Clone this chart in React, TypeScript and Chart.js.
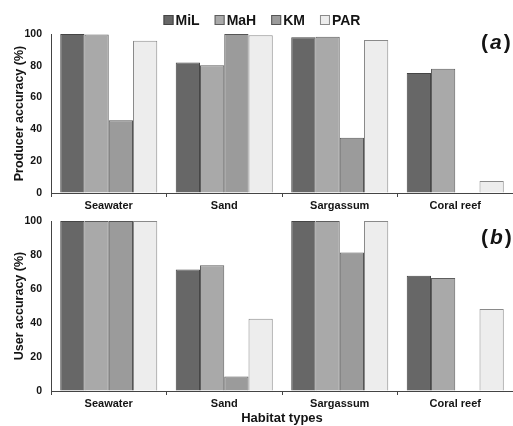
import React, { useEffect, useRef } from "react";
import { Chart, registerables } from "chart.js";

Chart.register(...registerables);

const categories = ["Seawater", "Sand", "Sargassum", "Coral reef"];
const seriesNames = ["MiL", "MaH", "KM", "PAR"];
const producerMiL = [100, 82, 98, 75.5];
const producerMaH = [99.7, 80.3, 98.3, 78.2];
const producerKM = [45.8, 100, 34.7, 0];
const producerPAR = [95.8, 99.2, 96.3, 7.5];
const userMiL = [100, 71.4, 100, 67.8];
const userMaH = [100, 74, 100, 66.5];
const userKM = [100, 8.6, 81.4, 0];
const userPAR = [100, 42.5, 100, 48.3];
const yTicks = [0, 20, 40, 60, 80, 100];

const fillColors = ["#676767", "#a9a9a9", "#9b9b9b", "#ededed"];
const borderColors = ["#454545", "#5e5e5e", "#555555", "#8a8a8a"];
const FONT = '"Liberation Sans", Arial, sans-serif';
const TEXT = "#141414";

const overlayPlugin = {
  id: "overlay",
  afterDraw(chart: any, _args: any, opts: any) {
    const ctx = chart.ctx as CanvasRenderingContext2D;
    ctx.save();
    if (opts.legend) {
      ctx.font = `bold 14px ${FONT}`;
      const box = 10, gapText = 2, gapItem = 15;
      const ds = chart.data.datasets;
      const widths = ds.map((d: any) => ctx.measureText(d.label).width);
      let total = gapItem * (ds.length - 1);
      widths.forEach((w: number) => (total += w + box + gapText));
      let x = opts.legendCenterX - total / 2;
      const y = opts.legendY;
      ds.forEach((d: any, i: number) => {
        ctx.fillStyle = d.backgroundColor;
        ctx.fillRect(x, y - box / 2, box, box);
        ctx.strokeStyle = d.borderColor;
        ctx.lineWidth = 1;
        ctx.strokeRect(x + 0.5, y - box / 2 + 0.5, box - 1, box - 1);
        ctx.fillStyle = TEXT;
        ctx.textBaseline = "middle";
        ctx.textAlign = "left";
        ctx.fillText(d.label, x + box + gapText, y + 1);
        x += box + gapText + widths[i] + gapItem;
      });
    }
    if (opts.panel) {
      const y = chart.chartArea.top + opts.panelDy;
      let x = opts.panelX;
      ctx.fillStyle = TEXT;
      ctx.textBaseline = "middle";
      ctx.textAlign = "left";
      ctx.font = `bold 21px ${FONT}`;
      ctx.fillText("(", x, y);
      x += ctx.measureText("(").width + 2;
      ctx.font = `italic bold 21px ${FONT}`;
      ctx.fillText(opts.panel, x, y);
      x += ctx.measureText(opts.panel).width + 2;
      ctx.font = `bold 21px ${FONT}`;
      ctx.fillText(")", x, y);
    }
    ctx.restore();
  },
};

function makeConfig(values: number[][], yTitle: string, panel: string, isTop: boolean): any {
  return {
    type: "bar",
    data: {
      labels: categories,
      datasets: seriesNames.map((name, i) => ({
        label: name,
        data: values[i],
        backgroundColor: fillColors[i],
        borderColor: borderColors[i],
        borderWidth: 1,
        categoryPercentage: 0.84,
        barPercentage: 1.0,
      })),
    },
    options: {
      responsive: false,
      animation: false,
      events: [],
      layout: { padding: { top: isTop ? 34 : 9, right: 0, left: 0, bottom: 0 } },
      plugins: {
        legend: { display: false },
        tooltip: { enabled: false },
        title: { display: false },
        overlay: {
          legend: isTop,
          legendCenterX: 262,
          legendY: 20,
          panel,
          panelX: 481,
          panelDy: isTop ? 9 : 17,
        },
      },
      scales: {
        x: {
          type: "category",
          grid: {
            display: true,
            drawOnChartArea: false,
            drawTicks: true,
            tickLength: 4,
            color: "#444",
            offset: true,
          },
          border: { display: true, color: "#444", width: 1 },
          ticks: {
            color: TEXT,
            font: { family: FONT, size: 11, weight: "bold" },
            padding: 2,
            maxRotation: 0,
            autoSkip: false,
          },
          title: isTop
            ? { display: false }
            : {
                display: true,
                text: "Habitat types",
                color: TEXT,
                font: { family: FONT, size: 13, weight: "bold" },
                padding: { top: 0, bottom: 0 },
              },
          afterFit: (s: any) => {
            s.height = isTop ? 19 : 35;
            s.paddingLeft = 0;
            s.paddingRight = 0;
          },
        },
        y: {
          min: 0,
          max: 100,
          afterBuildTicks: (s: any) => {
            s.ticks = yTicks.map((v) => ({ value: v }));
          },
          ticks: {
            color: TEXT,
            font: { family: FONT, size: 10.5, weight: "bold" },
            padding: 9,
          },
          grid: { display: true, drawOnChartArea: false, drawTicks: false },
          border: { display: true, color: "#444", width: 1 },
          title: {
            display: true,
            text: yTitle,
            color: TEXT,
            font: { family: FONT, size: 12.5, weight: "bold" },
            padding: { top: 12, bottom: 0 },
          },
          afterFit: (s: any) => {
            s.width = 51;
            s.paddingTop = 6;
            s.paddingBottom = 6;
          },
        },
      },
    },
    plugins: [overlayPlugin],
  };
}

export default function App() {
  const refA = useRef<HTMLCanvasElement>(null);
  const refB = useRef<HTMLCanvasElement>(null);
  useEffect(() => {
    const a = new Chart(
      refA.current!,
      makeConfig([producerMiL, producerMaH, producerKM, producerPAR], "Producer accuracy (%)", "a", true)
    );
    const b = new Chart(
      refB.current!,
      makeConfig([userMiL, userMaH, userKM, userPAR], "User accuracy (%)", "b", false)
    );
    return () => {
      a.destroy();
      b.destroy();
    };
  }, []);
  return (
    <div style={{ position: "absolute", left: 0, top: 0, width: 513, height: 426, background: "#fff" }}>
      <canvas ref={refA} width={513} height={212} style={{ display: "block", width: 513, height: 212 }} />
      <canvas ref={refB} width={513} height={214} style={{ display: "block", width: 513, height: 214 }} />
    </div>
  );
}
